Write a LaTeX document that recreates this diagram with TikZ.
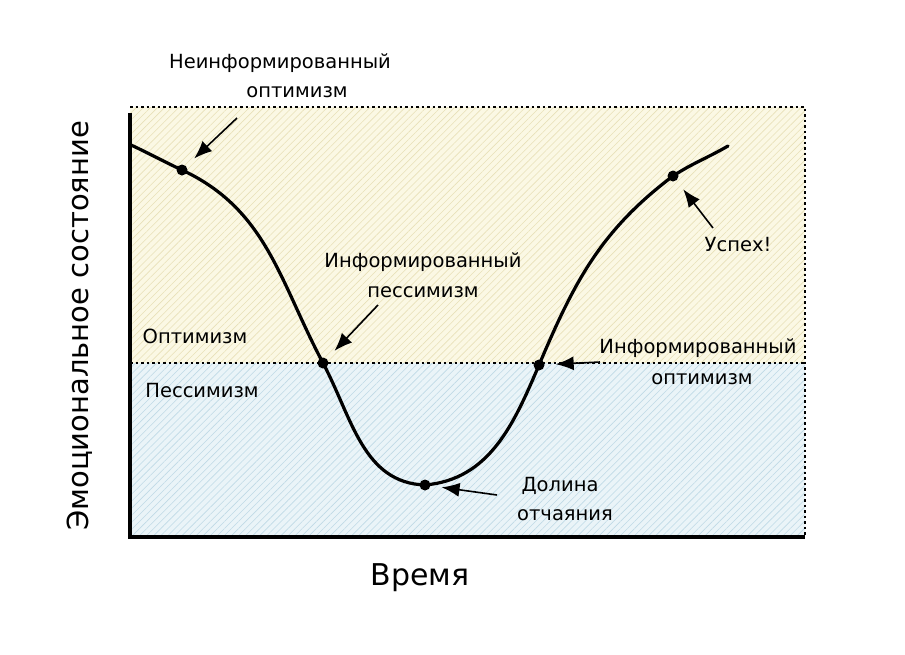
\documentclass[tikz,border=0pt]{standalone}
\usepackage{fontspec}
\setmainfont{DejaVu Sans}
\usetikzlibrary{arrows.meta,patterns.meta}

\definecolor{optfill}{HTML}{FBF8E4}
\definecolor{opthatch}{HTML}{E8E0B8}
\definecolor{pesfill}{HTML}{EAF4F8}
\definecolor{peshatch}{HTML}{BFDAE6}

\begin{document}
\begin{tikzpicture}[
    x=1pt, y=1pt,
    note/.style={font=\fontsize{19.5}{22}\selectfont, align=center},
    axistext/.style={font=\fontsize{29}{32}\selectfont},
    dot/.style={circle, fill=black, inner sep=0pt, minimum size=11pt},
    pin/.style={-{Latex[length=18pt,width=14pt]}, line width=1.6pt, shorten >=11pt},
    border/.style={dash pattern=on 2.5pt off 3pt, line width=1.3pt},
    curve/.style={line width=3.2pt, line cap=round}
]
\useasboundingbox (0,-654) rectangle (905,0);

% zones
\fill[optfill] (130,-107) rectangle (805,-363);
\fill[pattern={Lines[angle=45,distance=5pt,line width=0.6pt]}, pattern color=opthatch] (130,-107) rectangle (805,-363);
\fill[pesfill] (130,-363) rectangle (805,-537);
\fill[pattern={Lines[angle=45,distance=5pt,line width=0.6pt]}, pattern color=peshatch] (130,-363) rectangle (805,-537);

\draw[border] (130,-107) -- (805,-107) -- (805,-537);
\draw[border] (130,-363) -- (805,-363);

% axes
\draw[line width=3.5pt] (130,-113) -- (130,-537) -- (805,-537);

% curve points
\coordinate (start) at (131,-145);
\node[dot] (naive) at (182,-170) {};
\node[dot] (pess) at (323,-363) {};
\node[dot] (valley) at (425,-485) {};
\node[dot] (opt) at (539,-365) {};
\node[dot] (success) at (673,-176) {};
\coordinate (finish) at (728,-146);

\draw[curve] (start) to[out=-25,in=155] (naive.center)
    to[out=-25,in=118] (pess.center)
    to[out=-62,in=178] (valley.center)
    to[out=5,in=-113] (opt.center)
    to[out=67,in=-143] (success.center)
    to[out=33,in=-150] (finish);

% labels
\node[note] (naivetext) at (280,-63) {Неинформированный};
\node[note] (naivetext2) at (297,-92) {оптимизм};
\node[note] (pesstext) at (423,-262) {Информированный};
\node[note] (pesstext2) at (423,-292) {пессимизм};
\node[note] (opttext) at (698,-348) {Информированный};
\node[note] (opttext2) at (702,-379) {оптимизм};
\node[note] (valleytext) at (560,-486) {Долина};
\node[note] (valleytext2) at (565,-515) {отчаяния};
\node[note] (successtext) at (738,-245) {Успех!};
\node[note] (optzone) at (195,-336) {Оптимизм};
\node[note] (peszone) at (202,-391) {Пессимизм};

\node[axistext, rotate=90] (ylabel) at (80,-326) {Эмоциональное состояние};
\node[axistext, font=\fontsize{30}{34}\selectfont] (xlabel) at (420,-578) {Время};

% pointers
\coordinate (naivetail) at (237,-118);
\coordinate (pesstail) at (378,-305);
\coordinate (opttail) at (600,-362);
\coordinate (valleytail) at (497,-495);
\coordinate (successtail) at (713,-228);

\draw[pin] (naivetail) -- (naive);
\draw[pin] (pesstail) -- (pess);
\draw[pin] (opttail) -- (opt);
\draw[pin] (valleytail) -- (valley);
\draw[pin] (successtail) -- (success);

\end{tikzpicture}
\end{document}
